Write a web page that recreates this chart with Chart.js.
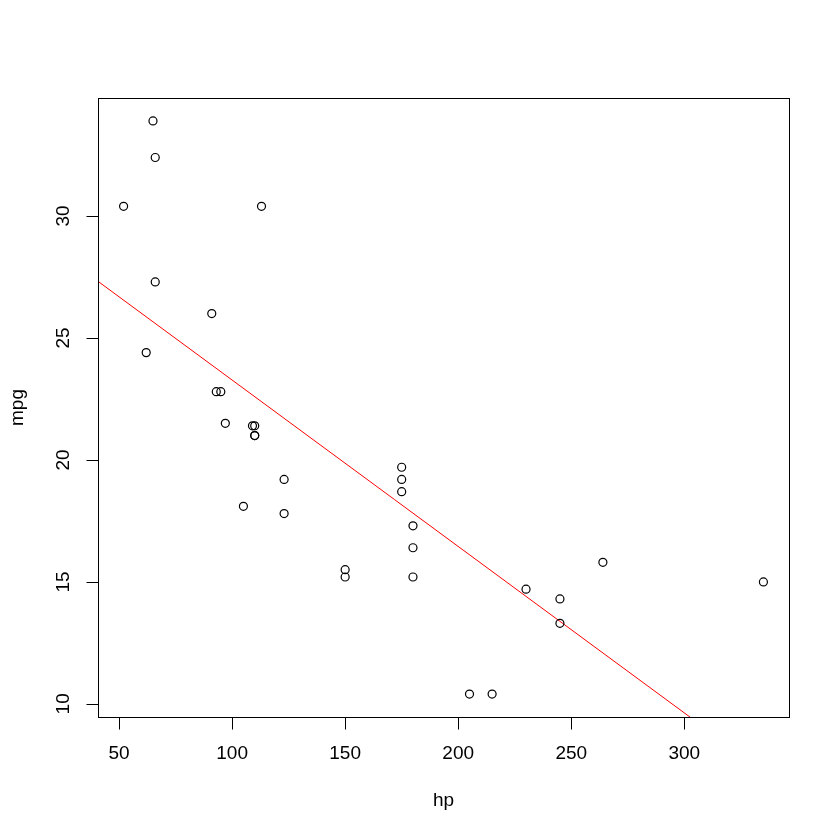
<!DOCTYPE html>
<html>
<head>
<meta charset="utf-8">
<script src="https://cdn.jsdelivr.net/npm/chart.js@4/dist/chart.umd.min.js"></script>
<style>
  html, body { margin: 0; padding: 0; background: #fff; }
  #wrap { width: 840px; height: 840px; }
</style>
</head>
<body>
<div id="wrap"><canvas id="c" width="840" height="840"></canvas></div>
<script>
// mtcars: horsepower and miles per gallon
const hp  = [110, 110, 93, 110, 175, 105, 245, 62, 95, 123, 123, 180, 180, 180, 205, 215, 230, 66, 52, 65, 97, 150, 150, 245, 175, 66, 91, 113, 264, 175, 335, 109];
const mpg = [21.0, 21.0, 22.8, 21.4, 18.7, 18.1, 14.3, 24.4, 22.8, 19.2, 17.8, 16.4, 17.3, 15.2, 10.4, 10.4, 14.7, 32.4, 30.4, 33.9, 21.5, 15.5, 15.2, 13.3, 19.2, 27.3, 26.0, 30.4, 15.8, 19.7, 15.0, 21.4];
// fitted line mpg ~ hp (abline)
const fitIntercept = 30.09886;
const fitSlope = -0.06823;
const xTicks = [50, 100, 150, 200, 250, 300];
const yTicks = [10, 15, 20, 25, 30];
const xTitle = 'hp';
const yTitle = 'mpg';

const xMin = 40.68, xMax = 346.32, yMin = 9.46, yMax = 34.84;
const FONT = '19px "Liberation Sans", Arial, sans-serif';

const points = hp.map((h, i) => ({ x: h, y: mpg[i] }));
const fitLine = [xMin, xMax].map(x => ({ x: x, y: fitIntercept + fitSlope * x }));

const rAxes = {
  id: 'rAxes',
  afterDraw(chart) {
    const ctx = chart.ctx;
    const a = chart.chartArea;
    const xs = chart.scales.x, ys = chart.scales.y;
    ctx.save();
    ctx.strokeStyle = '#000';
    ctx.lineWidth = 1;
    // box
    ctx.strokeRect(Math.round(a.left) + 0.5, Math.round(a.top) + 0.5,
                   Math.round(a.right - a.left), Math.round(a.bottom - a.top));
    // x axis
    const by = Math.round(a.bottom) + 0.5;
    const x0 = Math.round(xs.getPixelForValue(xTicks[0])) + 0.5;
    const x1 = Math.round(xs.getPixelForValue(xTicks[xTicks.length - 1])) + 0.5;
    ctx.beginPath();
    ctx.moveTo(x0, by); ctx.lineTo(x1, by);
    xTicks.forEach(t => {
      const px = Math.round(xs.getPixelForValue(t)) + 0.5;
      ctx.moveTo(px, by); ctx.lineTo(px, by + 12);
    });
    ctx.stroke();
    ctx.fillStyle = '#000';
    ctx.font = FONT;
    ctx.textAlign = 'center';
    ctx.textBaseline = 'middle';
    xTicks.forEach(t => {
      ctx.fillText(String(t), xs.getPixelForValue(t), 754);
    });
    ctx.fillText(xTitle, (a.left + a.right) / 2, 801);
    // y axis
    const lx = Math.round(a.left) + 0.5;
    const y0 = Math.round(ys.getPixelForValue(yTicks[0])) + 0.5;
    const y1 = Math.round(ys.getPixelForValue(yTicks[yTicks.length - 1])) + 0.5;
    ctx.beginPath();
    ctx.moveTo(lx, y0); ctx.lineTo(lx, y1);
    yTicks.forEach(t => {
      const py = Math.round(ys.getPixelForValue(t)) + 0.5;
      ctx.moveTo(lx, py); ctx.lineTo(lx - 12, py);
    });
    ctx.stroke();
    yTicks.forEach(t => {
      ctx.save();
      ctx.translate(64, ys.getPixelForValue(t));
      ctx.rotate(-Math.PI / 2);
      ctx.fillText(String(t), 0, 0);
      ctx.restore();
    });
    ctx.save();
    ctx.translate(18, (a.top + a.bottom) / 2);
    ctx.rotate(-Math.PI / 2);
    ctx.fillText(yTitle, 0, 0);
    ctx.restore();
    ctx.restore();
  }
};

new Chart(document.getElementById('c'), {
  type: 'scatter',
  data: {
    datasets: [
      {
        type: 'scatter',
        data: points,
        pointStyle: 'circle',
        pointRadius: 4,
        pointHoverRadius: 4,
        borderColor: '#000',
        backgroundColor: 'rgba(0,0,0,0)',
        borderWidth: 1.2,
        order: 1
      },
      {
        type: 'line',
        data: fitLine,
        borderColor: '#ff0000',
        borderWidth: 1,
        pointRadius: 0,
        fill: false,
        tension: 0,
        clip: 0,
        order: 2
      }
    ]
  },
  plugins: [rAxes],
  options: {
    responsive: false,
    animation: false,
    devicePixelRatio: 1,
    layout: { padding: { left: 98, top: 98, right: 51, bottom: 123 } },
    plugins: { legend: { display: false }, tooltip: { enabled: false } },
    events: [],
    scales: {
      x: { type: 'linear', min: xMin, max: xMax, display: false },
      y: { type: 'linear', min: yMin, max: yMax, display: false }
    }
  }
});
</script>
</body>
</html>
